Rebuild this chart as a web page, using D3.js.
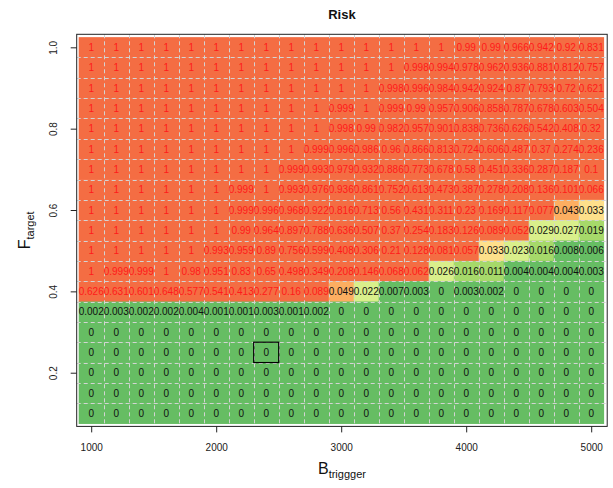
<!DOCTYPE html>
<html><head><meta charset="utf-8">
<script src="https://cdn.jsdelivr.net/npm/d3@7"></script>
<style>body{margin:0;background:#fff}text{font-family:"Liberation Sans",Arial,sans-serif}</style>
</head><body>
<svg id="chart" width="613" height="488"></svg>
<script>
// Categories
const bTrigger = [1000,1200,1400,1600,1800,2000,2200,2400,2600,2800,3000,3200,3400,3600,3800,4000,4200,4400,4600,4800,5000];
const fTarget = [1.00,0.95,0.90,0.85,0.80,0.75,0.70,0.65,0.60,0.55,0.50,0.45,0.40,0.35,0.30,0.25,0.20,0.15,0.10];
// Risk values per F row (columns follow bTrigger)
const riskF100 = [1,1,1,1,1,1,1,1,1,1,1,1,1,1,1,0.99,0.99,0.966,0.942,0.92,0.831];
const riskF095 = [1,1,1,1,1,1,1,1,1,1,1,1,1,0.998,0.994,0.978,0.962,0.936,0.881,0.812,0.757];
const riskF090 = [1,1,1,1,1,1,1,1,1,1,1,1,0.998,0.996,0.984,0.942,0.924,0.87,0.793,0.72,0.621];
const riskF085 = [1,1,1,1,1,1,1,1,1,1,0.999,1,0.999,0.99,0.957,0.906,0.858,0.787,0.678,0.603,0.504];
const riskF080 = [1,1,1,1,1,1,1,1,1,1,0.998,0.99,0.982,0.957,0.901,0.838,0.736,0.626,0.542,0.408,0.32];
const riskF075 = [1,1,1,1,1,1,1,1,1,0.999,0.996,0.986,0.96,0.866,0.813,0.724,0.606,0.487,0.37,0.274,0.236];
const riskF070 = [1,1,1,1,1,1,1,1,0.999,0.993,0.979,0.932,0.886,0.773,0.678,0.58,0.451,0.336,0.287,0.187,0.1];
const riskF065 = [1,1,1,1,1,1,0.999,1,0.993,0.976,0.936,0.861,0.752,0.613,0.473,0.387,0.278,0.208,0.136,0.101,0.066];
const riskF060 = [1,1,1,1,1,1,0.999,0.996,0.968,0.922,0.816,0.713,0.56,0.431,0.311,0.23,0.169,0.117,0.077,0.043,0.033];
const riskF055 = [1,1,1,1,1,1,0.99,0.964,0.897,0.788,0.636,0.507,0.37,0.254,0.183,0.126,0.089,0.052,0.029,0.027,0.019];
const riskF050 = [1,1,1,1,1,0.993,0.959,0.89,0.756,0.599,0.408,0.306,0.21,0.128,0.081,0.057,0.033,0.023,0.016,0.008,0.006];
const riskF045 = [1,0.999,0.999,1,0.98,0.951,0.83,0.65,0.498,0.349,0.208,0.146,0.068,0.062,0.026,0.016,0.011,0.004,0.004,0.004,0.003];
const riskF040 = [0.626,0.631,0.601,0.648,0.577,0.541,0.413,0.277,0.16,0.089,0.049,0.022,0.007,0.003,0,0.003,0.002,0,0,0,0];
const riskF035 = [0.002,0.003,0.002,0.002,0.004,0.001,0.001,0.003,0.001,0.002,0,0,0,0,0,0,0,0,0,0,0];
const riskF030 = [0,0,0,0,0,0,0,0,0,0,0,0,0,0,0,0,0,0,0,0,0];
const riskF025 = [0,0,0,0,0,0,0,0,0,0,0,0,0,0,0,0,0,0,0,0,0];
const riskF020 = [0,0,0,0,0,0,0,0,0,0,0,0,0,0,0,0,0,0,0,0,0];
const riskF015 = [0,0,0,0,0,0,0,0,0,0,0,0,0,0,0,0,0,0,0,0,0];
const riskF010 = [0,0,0,0,0,0,0,0,0,0,0,0,0,0,0,0,0,0,0,0,0];
const riskRows = [riskF100,riskF095,riskF090,riskF085,riskF080,riskF075,riskF070,riskF065,riskF060,riskF055,riskF050,riskF045,riskF040,riskF035,riskF030,riskF025,riskF020,riskF015,riskF010];
// Colour classes
const riskBreaks = [0.01,0.02,0.03,0.04,0.05];
const riskColors = ["#66BD63","#A6D96A","#D9EF8B","#FEE08B","#FDAE61","#F46D43"];
// Highlighted cell
const highlight = {b: 2400, f: 0.25};
const xTicks = [1000,2000,3000,4000,5000];
const yTicks = [0.2,0.4,0.6,0.8,1.0];
const yTickLabels = ["0.2","0.4","0.6","0.8","1.0"];

const svg = d3.select("#chart");
const x = d3.scaleLinear().domain([884,5128]).range([76.7,607.2]);
const y = d3.scaleLinear().domain([0.068,1.032]).range([426.4,34.3]);
const color = d3.scaleThreshold().domain(riskBreaks).range(riskColors);
const bStep = 200, fStep = 0.05;

const cells = [];
riskRows.forEach((row,i)=>row.forEach((v,j)=>cells.push({b:bTrigger[j], f:fTarget[i], v})));

// cells
svg.append("g").selectAll("rect").data(cells).join("rect")
  .attr("x", d=>x(d.b-bStep/2))
  .attr("y", d=>y(d.f+fStep/2))
  .attr("width", d=>x(d.b+bStep/2)-x(d.b-bStep/2)+0.4)
  .attr("height", d=>y(d.f-fStep/2)-y(d.f+fStep/2)+0.4)
  .attr("fill", d=>color(d.v));

// grid (dashed, at cell boundaries)
const [xl,xr] = x.range(), [yb,yt] = y.range();
const gridB = bTrigger.slice(0,-1).map(b=>b+bStep/2);
const gridF = fTarget.slice(0,-1).map(f=>f-fStep/2);
const grid = svg.append("g").attr("stroke","#D3D3D3").attr("stroke-width",1).attr("stroke-dasharray","4,3");
grid.selectAll("line.v").data(gridB).join("line").attr("class","v")
  .attr("x1",d=>Math.round(x(d))+0.5).attr("x2",d=>Math.round(x(d))+0.5).attr("y1",yt).attr("y2",yb);
grid.selectAll("line.h").data(gridF).join("line").attr("class","h")
  .attr("y1",d=>Math.round(y(d))+0.5).attr("y2",d=>Math.round(y(d))+0.5).attr("x1",xl).attr("x2",xr);

// labels
svg.append("g").selectAll("text").data(cells).join("text")
  .attr("x", d=>x(d.b)).attr("y", d=>y(d.f)+3.6)
  .attr("text-anchor","middle").attr("font-size",10)
  .attr("fill", d=>d.v>=0.05?"#FF1A1A":"#111")
  .text(d=>String(d.v));

// highlight
svg.append("rect")
  .attr("x", x(highlight.b-bStep/2)).attr("y", y(highlight.f+fStep/2))
  .attr("width", x(highlight.b+bStep/2)-x(highlight.b-bStep/2))
  .attr("height", y(highlight.f-fStep/2)-y(highlight.f+fStep/2))
  .attr("fill","none").attr("stroke","#000").attr("stroke-width",1.2);

// box
svg.append("rect").attr("x",xl).attr("y",yt).attr("width",xr-xl).attr("height",yb-yt)
  .attr("fill","none").attr("stroke","#222").attr("stroke-width",1);

// x axis
const xa = svg.append("g").attr("transform",`translate(0,${yb})`)
  .call(d3.axisBottom(x).tickValues(xTicks).tickSize(6).tickPadding(12).tickFormat(d3.format("d")));
xa.select(".domain").remove();
xa.selectAll("text").attr("font-size",10).attr("fill","#222").attr("font-family","Liberation Sans, Arial, sans-serif");
xa.selectAll("line").attr("stroke","#222");

// y axis
const ya = svg.append("g").attr("transform",`translate(${xl},0)`)
  .call(d3.axisLeft(y).tickValues(yTicks).tickSize(6).tickFormat((d,i)=>yTickLabels[i]));
ya.select(".domain").remove();
ya.selectAll("line").attr("stroke","#222");
ya.selectAll("text").attr("font-size",10).attr("fill","#222").attr("font-family","Liberation Sans, Arial, sans-serif")
  .attr("text-anchor","middle").attr("x",0).attr("dy",0)
  .attr("transform",function(){return "translate(-20,0) rotate(-90)";});

// titles
svg.append("text").attr("x",(xl+xr)/2).attr("y",19).attr("text-anchor","middle")
  .attr("font-size",13).attr("font-weight","bold").attr("fill","#111").text("Risk");
const bt = svg.append("text").attr("x",(xl+xr)/2).attr("y",474).attr("text-anchor","middle").attr("fill","#111");
bt.append("tspan").attr("font-size",16).text("B");
bt.append("tspan").attr("font-size",11).attr("dy",4).text("triggger");
const ft = svg.append("text").attr("transform",`translate(30,${(yt+yb)/2}) rotate(-90)`).attr("text-anchor","middle").attr("fill","#111");
ft.append("tspan").attr("font-size",16).text("F");
ft.append("tspan").attr("font-size",11).attr("dy",4).text("target");
</script>
</body></html>
